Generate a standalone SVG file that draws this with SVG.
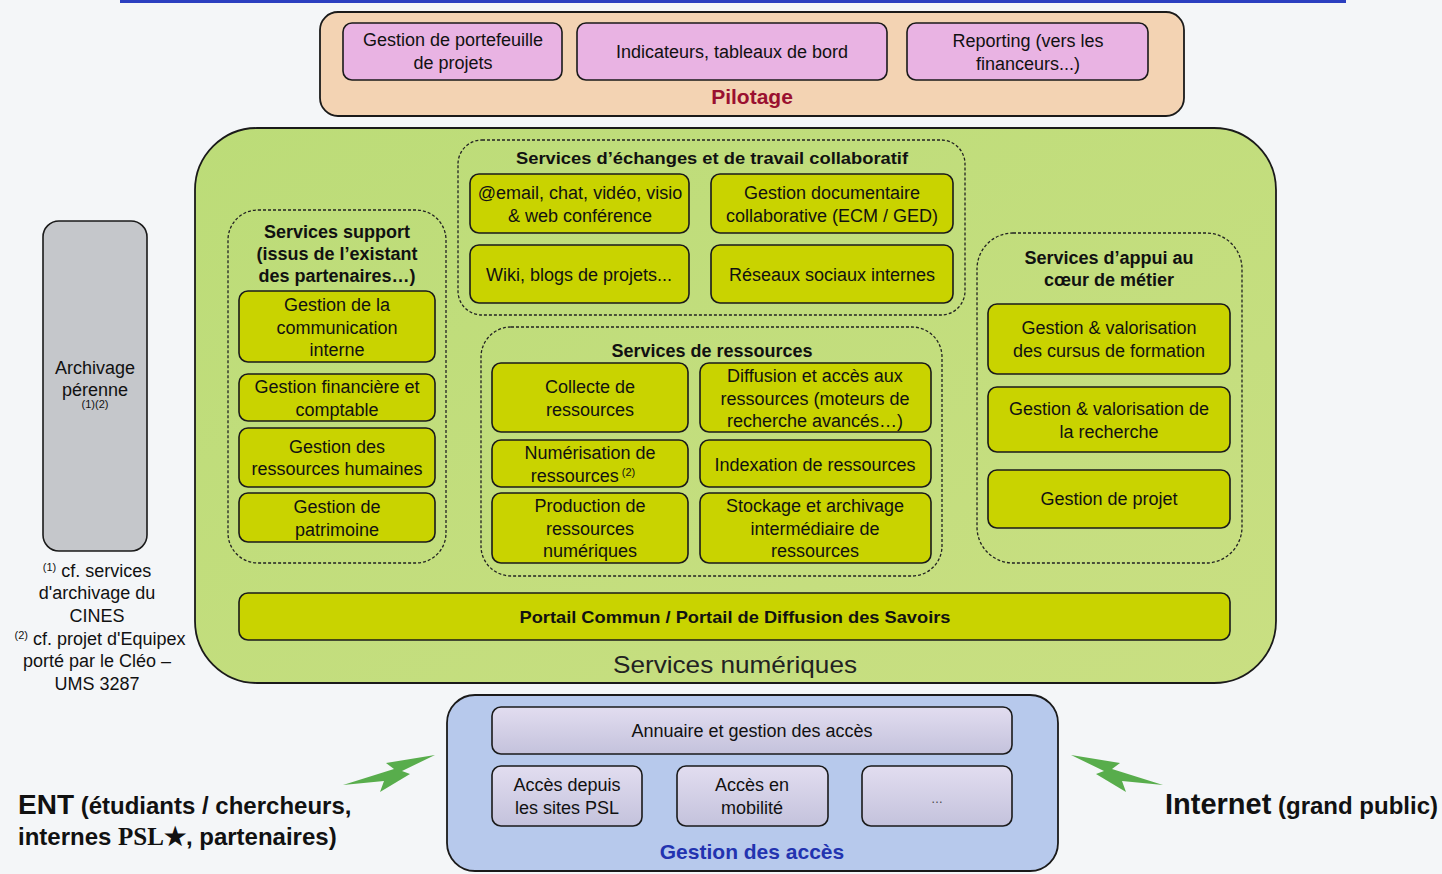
<svg xmlns="http://www.w3.org/2000/svg" width="1442" height="874" viewBox="0 0 1442 874">
<style>
text{font-family:"Liberation Sans",Arial,sans-serif;fill:#111;text-anchor:middle}
.t{font-size:18px}
.b{font-size:18px;font-weight:bold}
.box{fill:#c9d300;stroke:#1a1a1a;stroke-width:1.6}
.pink{fill:#e9b3e3;stroke:#1a1a1a;stroke-width:1.6}
.acc{fill:url(#gacc);stroke:#1a1a1a;stroke-width:1.6}
.grp{fill:none;stroke:#222;stroke-width:1.3;stroke-dasharray:3 2}
.bolt{fill:#58ad4c}
</style>
<defs>
<linearGradient id="gacc" x1="0" y1="0" x2="0" y2="1"><stop offset="0" stop-color="#e2ddf0"/><stop offset="1" stop-color="#c4c2dc"/></linearGradient>
<linearGradient id="ggreen" x1="0" y1="0" x2="1" y2="1"><stop offset="0" stop-color="#bcdc78"/><stop offset="1" stop-color="#c9df82"/></linearGradient>
</defs>
<rect width="1442" height="874" fill="#f4f6f8"/>
<rect x="120" y="-6" width="1226" height="9" fill="#2b3fc0"/>

<g id="pilotage">
<rect x="320" y="12" width="864" height="104" rx="18" fill="#f3d3b3" stroke="#1a1a1a" stroke-width="1.8"/>
<text x="752" y="104" style="font-size:21px;font-weight:bold;fill:#9a1030">Pilotage</text>
</g>
<g id="portefeuille"><rect class="pink" x="343" y="23" width="219" height="57" rx="9"/><text class="t" x="453" y="46">Gestion de portefeuille</text><text class="t" x="453" y="69">de projets</text></g>
<g id="indicateurs"><rect class="pink" x="577" y="23" width="310" height="57" rx="9"/><text class="t" x="732" y="58">Indicateurs, tableaux de bord</text></g>
<g id="reporting"><rect class="pink" x="907" y="23" width="241" height="57" rx="9"/><text class="t" x="1028" y="47">Reporting (vers les</text><text class="t" x="1028" y="70">financeurs...)</text></g>

<g id="services-numeriques">
<rect x="195" y="128" width="1081" height="555" rx="62" fill="url(#ggreen)" stroke="#1a1a1a" stroke-width="1.8"/>
<text x="735" y="673" textLength="244" lengthAdjust="spacingAndGlyphs" style="font-size:24px;fill:#222">Services numériques</text>
</g>

<g id="archivage">
<rect x="43" y="221" width="104" height="330" rx="16" fill="#c5c7cb" stroke="#1a1a1a" stroke-width="1.6"/>
<text class="t" x="95" y="374">Archivage</text>
<text class="t" x="95" y="396">pérenne</text>
<text x="95" y="408" style="font-size:11px">(1)(2)</text>
</g>
<g id="notes">
<text class="t" x="97" y="577"><tspan style="font-size:11px" dy="-6">(1)</tspan><tspan dy="6"> cf. services</tspan></text>
<text class="t" x="97" y="599">d'archivage du</text>
<text class="t" x="97" y="622">CINES</text>
<text class="t" x="100" y="645"><tspan style="font-size:11px" dy="-6">(2)</tspan><tspan dy="6"> cf. projet d'Equipex</tspan></text>
<text class="t" x="97" y="667">porté par le Cléo –</text>
<text class="t" x="97" y="690">UMS 3287</text>
</g>

<g id="grp-collab">
<rect class="grp" x="458" y="140" width="507" height="175" rx="24"/>
<text x="712" y="164" textLength="392" lengthAdjust="spacingAndGlyphs" style="font-size:17px;font-weight:bold">Services d’échanges et de travail collaboratif</text>
</g>
<g id="email"><rect class="box" x="470" y="174" width="219" height="59" rx="9"/><text class="t" x="580" y="199">@email, chat, vidéo, visio</text><text class="t" x="580" y="222">&amp; web conférence</text></g>
<g id="ged"><rect class="box" x="711" y="174" width="242" height="59" rx="9"/><text class="t" x="832" y="199">Gestion documentaire</text><text class="t" x="832" y="222">collaborative (ECM / GED)</text></g>
<g id="wiki"><rect class="box" x="470" y="245" width="219" height="58" rx="9"/><text class="t" x="579" y="281">Wiki, blogs de projets...</text></g>
<g id="reseaux"><rect class="box" x="711" y="245" width="242" height="58" rx="9"/><text class="t" x="832" y="281">Réseaux sociaux internes</text></g>

<g id="grp-support">
<rect class="grp" x="228" y="210" width="218" height="353" rx="30"/>
<text class="b" x="337" y="238">Services support</text>
<text class="b" x="337" y="260">(issus de l’existant</text>
<text class="b" x="337" y="282">des partenaires…)</text>
</g>
<g id="communication"><rect class="box" x="239" y="291" width="196" height="71" rx="9"/><text class="t" x="337" y="311">Gestion de la</text><text class="t" x="337" y="334">communication</text><text class="t" x="337" y="356">interne</text></g>
<g id="financiere"><rect class="box" x="239" y="374" width="196" height="47" rx="9"/><text class="t" x="337" y="393">Gestion financière et</text><text class="t" x="337" y="416">comptable</text></g>
<g id="rh"><rect class="box" x="239" y="428" width="196" height="59" rx="9"/><text class="t" x="337" y="453">Gestion des</text><text class="t" x="337" y="475">ressources humaines</text></g>
<g id="patrimoine"><rect class="box" x="239" y="493" width="196" height="49" rx="9"/><text class="t" x="337" y="513">Gestion de</text><text class="t" x="337" y="536">patrimoine</text></g>

<g id="grp-ressources">
<rect class="grp" x="481" y="327" width="461" height="249" rx="30"/>
<text class="b" x="712" y="357">Services de ressources</text>
</g>
<g id="collecte"><rect class="box" x="492" y="363" width="196" height="69" rx="9"/><text class="t" x="590" y="393">Collecte de</text><text class="t" x="590" y="416">ressources</text></g>
<g id="diffusion"><rect class="box" x="700" y="363" width="231" height="69" rx="9"/><text class="t" x="815" y="382">Diffusion  et accès aux</text><text class="t" x="815" y="405">ressources (moteurs de</text><text class="t" x="815" y="427">recherche avancés…)</text></g>
<g id="numerisation"><rect class="box" x="492" y="440" width="196" height="47" rx="9"/><text class="t" x="590" y="459">Numérisation de</text><text class="t" x="583" y="482">ressources<tspan style="font-size:11px" dy="-6"> (2)</tspan></text></g>
<g id="indexation"><rect class="box" x="700" y="440" width="231" height="47" rx="9"/><text class="t" x="815" y="471">Indexation de ressources</text></g>
<g id="production"><rect class="box" x="492" y="493" width="196" height="70" rx="9"/><text class="t" x="590" y="512">Production de</text><text class="t" x="590" y="535">ressources</text><text class="t" x="590" y="557">numériques</text></g>
<g id="stockage"><rect class="box" x="700" y="493" width="231" height="70" rx="9"/><text class="t" x="815" y="512">Stockage et archivage</text><text class="t" x="815" y="535">intermédiaire de</text><text class="t" x="815" y="557">ressources</text></g>

<g id="grp-appui">
<rect class="grp" x="977" y="233" width="265" height="330" rx="36"/>
<text class="b" x="1109" y="264">Services d’appui au</text>
<text class="b" x="1109" y="286">cœur de métier</text>
</g>
<g id="cursus"><rect class="box" x="988" y="304" width="242" height="70" rx="9"/><text class="t" x="1109" y="334">Gestion &amp; valorisation</text><text class="t" x="1109" y="357">des cursus de formation</text></g>
<g id="recherche"><rect class="box" x="988" y="387" width="242" height="65" rx="9"/><text class="t" x="1109" y="415">Gestion &amp; valorisation de</text><text class="t" x="1109" y="438">la recherche</text></g>
<g id="projet"><rect class="box" x="988" y="470" width="242" height="58" rx="9"/><text class="t" x="1109" y="505">Gestion de projet</text></g>

<g id="portail"><rect class="box" x="239" y="593" width="991" height="47" rx="9"/><text x="735" y="623" textLength="431" lengthAdjust="spacingAndGlyphs" style="font-size:17px;font-weight:bold">Portail Commun / Portail de Diffusion des Savoirs</text></g>

<g id="gestion-acces">
<rect x="447" y="695" width="611" height="176" rx="28" fill="#b7c9ec" stroke="#1a1a1a" stroke-width="1.8"/>
<text x="752" y="859" style="font-size:21px;font-weight:bold;fill:#2233b0">Gestion des accès</text>
</g>
<g id="annuaire"><rect class="acc" x="492" y="707" width="520" height="47" rx="9"/><text class="t" x="752" y="737">Annuaire et gestion des accès</text></g>
<g id="acces-sites"><rect class="acc" x="492" y="766" width="150" height="60" rx="9"/><text class="t" x="567" y="791">Accès depuis</text><text class="t" x="567" y="814">les sites PSL</text></g>
<g id="acces-mobilite"><rect class="acc" x="677" y="766" width="151" height="60" rx="9"/><text class="t" x="752" y="791">Accès en</text><text class="t" x="752" y="814">mobilité</text></g>
<g id="acces-autre"><rect class="acc" x="862" y="766" width="150" height="60" rx="9"/><text x="937" y="803" style="font-size:12px;fill:#444">…</text></g>

<g id="connectors">
<polygon class="bolt" points="435,755 386,763 394,769 343,785 384,781 380,792 410,774 402,771"/>
<polygon class="bolt" points="1071,755 1120,763 1112,769 1163,785 1122,781 1126,792 1096,774 1104,771"/>
</g>

<g id="ent">
<text x="18" y="814" style="text-anchor:start;font-size:24px;font-weight:bold"><tspan style="font-size:28px">ENT</tspan> (étudiants / chercheurs,</text>
<text x="18" y="845" style="text-anchor:start;font-size:24px;font-weight:bold">internes <tspan style="font-family:'Liberation Serif',serif;font-size:25px">PSL★</tspan>, partenaires)</text>
</g>
<g id="internet">
<text x="1438" y="814" style="text-anchor:end;font-size:24px;font-weight:bold"><tspan style="font-size:29px">Internet</tspan> (grand public)</text>
</g>
</svg>
